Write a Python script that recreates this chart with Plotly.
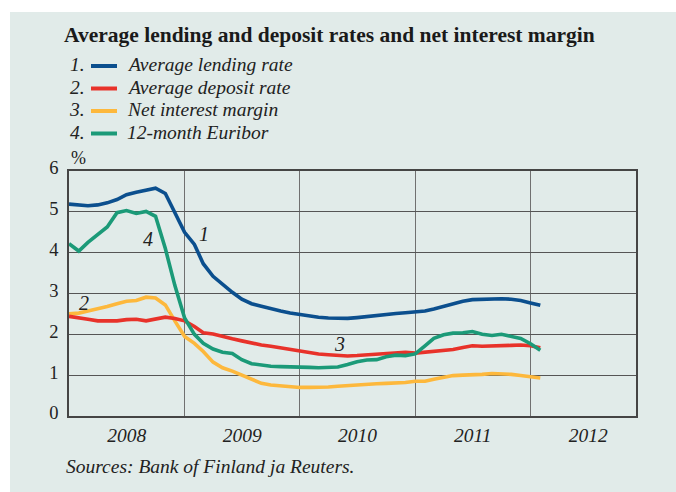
import plotly.graph_objects as go
import pandas as pd

months = pd.date_range("2008-01-01", periods=50, freq="MS")

lending = [5.19, 5.16, 5.15, 5.17, 5.22, 5.30, 5.42, 5.48, 5.52, 5.58,
           5.45, 5.00, 4.50, 4.20, 3.73, 3.42, 3.22, 3.03, 2.86, 2.75,
           2.69, 2.62, 2.57, 2.52, 2.48, 2.44, 2.42, 2.40, 2.39, 2.39,
           2.41, 2.44, 2.46, 2.49, 2.51, 2.53, 2.55, 2.57, 2.62, 2.69,
           2.75, 2.81, 2.85, 2.86, 2.87, 2.87, 2.86, 2.83, 2.77, 2.71]
deposit = [2.44, 2.41, 2.37, 2.33, 2.33, 2.33, 2.36, 2.37, 2.33, 2.38,
           2.42, 2.39, 2.33, 2.19, 2.04, 2.01, 1.94, 1.89, 1.84, 1.78,
           1.74, 1.71, 1.67, 1.65, 1.60, 1.55, 1.52, 1.50, 1.48, 1.47,
           1.48, 1.50, 1.51, 1.52, 1.54, 1.56, 1.54, 1.56, 1.58, 1.60,
           1.63, 1.68, 1.72, 1.71, 1.71, 1.71, 1.73, 1.74, 1.72, 1.67]
margin = [2.50, 2.52, 2.57, 2.62, 2.68, 2.75, 2.81, 2.83, 2.91, 2.89,
          2.72, 2.33, 1.95, 1.78, 1.58, 1.32, 1.18, 1.10, 1.00, 0.88,
          0.80, 0.76, 0.74, 0.71, 0.70, 0.70, 0.70, 0.71, 0.73, 0.75,
          0.76, 0.78, 0.79, 0.80, 0.80, 0.82, 0.85, 0.85, 0.90, 0.95,
          0.99, 1.00, 1.00, 1.02, 1.04, 1.04, 1.02, 0.99, 0.96, 0.93]
euribor = [4.22, 4.04, 4.25, 4.45, 4.63, 4.98, 5.03, 4.96, 5.01, 4.89,
           4.10, 3.20, 2.40, 2.00, 1.78, 1.64, 1.56, 1.53, 1.38, 1.28,
           1.24, 1.22, 1.21, 1.21, 1.20, 1.19, 1.18, 1.18, 1.20, 1.26,
           1.33, 1.37, 1.38, 1.45, 1.49, 1.48, 1.52, 1.72, 1.90, 1.99,
           2.03, 2.04, 2.07, 2.00, 1.97, 2.00, 1.95, 1.90, 1.77, 1.61]

names = ["Average lending rate", "Average deposit rate", "Net interest margin", "12-month Euribor"]
numbers = ["1.", "2.", "3.", "4."]
colors = ["#0b4f8e", "#e8322a", "#fdb83c", "#1b9a78"]
series = [lending, deposit, margin, euribor]

# in-chart series labels: (text, date, value)
line_labels = [("1", "2009-03-03", 4.46), ("2", "2008-02-17", 2.76),
               ("3", "2010-05-05", 1.76), ("4", "2008-09-07", 4.34)]

BG = "#e1ebe9"
SERIF = "Liberation Serif"
TXT = "#222222"
W, H = 676, 492
L, T = 69, 171
R, B = W - 636, H - 416
pw, ph = W - L - R, H - T - B


def px_x(p):   # screen x -> paper
    return (p - L) / pw


def px_y(p):   # screen y -> paper
    return (H - B - p) / ph


fig = go.Figure()
for i in [2, 1, 3, 0]:
    fig.add_trace(go.Scatter(
        x=months, y=series[i], mode="lines", name=names[i], showlegend=False,
        line=dict(color=colors[i], width=3.6),
    ))

annotations = []
# white strips above and left of the tinted panel
shapes = [dict(type="rect", xref="paper", yref="paper", layer="below",
               x0=px_x(-20), x1=px_x(W + 20), y0=px_y(12), y1=px_y(-20),
               fillcolor="white", line=dict(width=0)),
          dict(type="rect", xref="paper", yref="paper", layer="below",
               x0=px_x(-20), x1=px_x(10), y0=px_y(H + 20), y1=px_y(-20),
               fillcolor="white", line=dict(width=0))]

for txt, d, v in line_labels:
    annotations.append(dict(x=d, y=v, xref="x", yref="y", text=txt, showarrow=False,
                            font=dict(family=SERIF, size=20, color=TXT, style="italic")))

row_y = [65, 87.5, 110, 132.5]
for n, name, col, yy in zip(numbers, names, colors, row_y):
    annotations.append(dict(x=px_x(87), y=px_y(yy), xref="paper", yref="paper", text=n,
                            showarrow=False, xanchor="right", yanchor="middle",
                            font=dict(family=SERIF, size=19.5, color=TXT, style="italic")))
    annotations.append(dict(x=px_x(125), y=px_y(yy), xref="paper", yref="paper", text=name,
                            showarrow=False, xanchor="left", yanchor="middle",
                            font=dict(family=SERIF, size=19.5, color=TXT, style="italic")))
    shapes.append(dict(type="line", xref="paper", yref="paper",
                       x0=px_x(91), x1=px_x(117), y0=px_y(yy + 1), y1=px_y(yy + 1),
                       line=dict(color=col, width=4)))

annotations.append(dict(x=px_x(69), y=px_y(158), xref="paper", yref="paper", text="%",
                        showarrow=False, xanchor="left", yanchor="middle",
                        font=dict(family=SERIF, size=18, color=TXT)))
annotations.append(dict(x=px_x(64), y=px_y(466), xref="paper", yref="paper",
                        text="Sources: Bank of Finland ja Reuters.",
                        showarrow=False, xanchor="left", yanchor="middle",
                        font=dict(family=SERIF, size=19.5, color=TXT, style="italic")))

fig.update_layout(
    width=W, height=H,
    margin=dict(l=L, r=R, t=T, b=B, autoexpand=False),
    paper_bgcolor=BG, plot_bgcolor=BG,
    title=dict(text="<b>Average lending and deposit rates and net interest margin</b>",
               xref="container", yref="container", x=64 / W, xanchor="left",
               y=1 - 34 / H, yanchor="middle",
               font=dict(family=SERIF, size=21.5, color="#1a1a1a")),
    showlegend=False,
    shapes=shapes,
    annotations=annotations,
    xaxis=dict(type="date", range=["2008-01-01", "2012-11-30"],
               tick0="2008-01-01", dtick="M12", ticklabelmode="period",
               tickformat="%Y", showgrid=True, gridcolor="#707070", gridwidth=1,
               showline=True, linecolor="#454545", linewidth=1.6, mirror=True,
               ticks="", ticklabelstandoff=1,
               tickfont=dict(family=SERIF, size=19.5, color=TXT, style="italic"),
               zeroline=False),
    yaxis=dict(range=[0, 6], dtick=1, showgrid=True, gridcolor="#555555", gridwidth=1,
               showline=True, linecolor="#454545", linewidth=1.6, mirror=True,
               ticks="", ticklabelstandoff=5, ticklabelshift=-3,
               tickfont=dict(family=SERIF, size=18.5, color=TXT),
               zeroline=False),
)

fig.write_html(
    "out.html",
    config={"displayModeBar": False},
    post_script=("document.body.style.margin='0';"
                 "document.body.style.overflow='hidden';"
                 "document.documentElement.style.overflow='hidden';"
                 "document.body.style.background='" + BG + "';"),
)
